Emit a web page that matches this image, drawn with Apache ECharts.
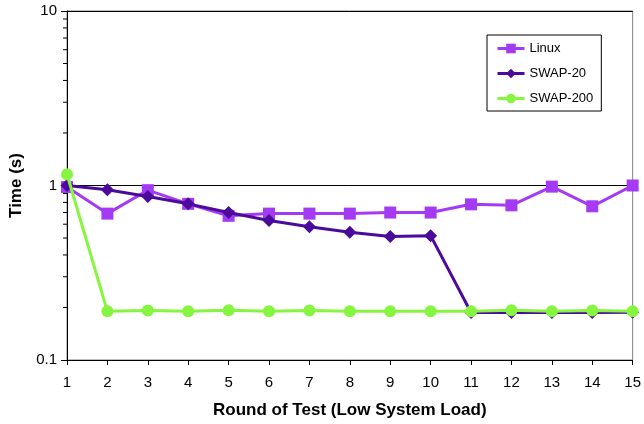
<!DOCTYPE html>
<html>
<head>
<meta charset="utf-8">
<script src="https://cdn.jsdelivr.net/npm/echarts@6/dist/echarts.min.js"></script>
<style>
html,body{margin:0;padding:0;background:#fff;}
#chart{width:644px;height:424px;}
</style>
</head>
<body>
<div id="chart"></div>
<script>
const rounds = ['1','2','3','4','5','6','7','8','9','10','11','12','13','14','15'];
const linux   = [0.98, 0.69, 0.94, 0.785, 0.67, 0.69, 0.69, 0.69, 0.70, 0.70, 0.78, 0.77, 0.985, 0.76, 1.0];
const swap20  = [1.0, 0.945, 0.865, 0.785, 0.70, 0.63, 0.58, 0.54, 0.51, 0.516, 0.187, 0.187, 0.187, 0.187, 0.188];
const swap200 = [1.16, 0.19, 0.192, 0.19, 0.193, 0.19, 0.192, 0.19, 0.19, 0.19, 0.19, 0.193, 0.19, 0.192, 0.19];
const minorTickValues = [0.2,0.3,0.4,0.5,0.6,0.7,0.8,0.9,2,3,4,5,6,7,8,9];

const FONT = "'Liberation Sans', Arial, sans-serif";
const chart = echarts.init(document.getElementById('chart'), null, {renderer:'canvas'});

chart.setOption({
  animation: false,
  backgroundColor: '#fff',
  textStyle: {fontFamily: FONT, color: '#000'},
  grid: {left: 64, right: 9, top: 11, bottom: 63, show: true, borderColor: '#808080', borderWidth: 1, backgroundColor: 'transparent'},
  legend: {
    data: ['Linux', 'SWAP-20', 'SWAP-200'],
    orient: 'vertical',
    left: 487, top: 35,
    padding: [7, 8, 6, 9],
    itemWidth: 27, itemHeight: 12, itemGap: 12,
    borderColor: '#000', borderWidth: 1,
    backgroundColor: '#fff',
    lineStyle: {width: 3},
    textStyle: {fontFamily: FONT, fontSize: 13, color: '#000', lineHeight: 12}
  },
  xAxis: {
    type: 'category', data: rounds, boundaryGap: false,
    axisLine: {lineStyle: {color: '#000', width: 1}},
    axisTick: {show: true, length: 5, inside: false, lineStyle: {color: '#000'}},
    axisLabel: {fontFamily: FONT, fontSize: 15, color: '#000', margin: 15},
    splitLine: {show: false},
    name: 'Round of Test (Low System Load)',
    nameLocation: 'middle', nameGap: 42,
    nameTextStyle: {fontFamily: FONT, fontSize: 17, fontWeight: 'bold', color: '#000'}
  },
  yAxis: {
    type: 'log', logBase: 10, min: 0.1, max: 10,
    axisLine: {show: true, lineStyle: {color: '#000', width: 1}},
    axisTick: {show: true, length: 6, inside: false, lineStyle: {color: '#000'}},
    axisLabel: {fontFamily: FONT, fontSize: 15, color: '#000', margin: 10,
      formatter: function(v){ return v >= 1 ? String(Math.round(v)) : String(Math.round(v*10)/10); }},
    splitLine: {show: true, lineStyle: {color: '#000', width: 1}},
    name: 'Time (s)', nameLocation: 'middle', nameGap: 42, nameRotate: 90,
    nameTextStyle: {fontFamily: FONT, fontSize: 17, fontWeight: 'bold', color: '#000'}
  },
  series: [
    {
      name: 'Linux', type: 'line', data: linux,
      symbol: 'rect', symbolSize: 12,
      lineStyle: {color: '#A43AF4', width: 3},
      itemStyle: {color: '#A43AF4'},
      z: 3
    },
    {
      name: 'SWAP-20', type: 'line', data: swap20,
      symbol: 'diamond', symbolSize: 13,
      lineStyle: {color: '#4B0A9B', width: 3},
      itemStyle: {color: '#4B0A9B'},
      z: 4
    },
    {
      name: 'SWAP-200', type: 'line', data: swap200,
      symbol: 'circle', symbolSize: 12,
      lineStyle: {color: '#86F53F', width: 3},
      itemStyle: {color: '#86F53F'},
      z: 5
    },
    {
      name: 'minorTicks', type: 'custom', silent: true, clip: false,
      data: minorTickValues.map(function(v){ return [0, v]; }),
      renderItem: function(params, api){
        const p = api.coord([0, api.value(1)]);
        return {type: 'line', shape: {x1: p[0]-4, y1: p[1], x2: p[0], y2: p[1]},
                style: {stroke: '#000', lineWidth: 1}};
      },
      z: 1
    }
  ]
});
</script>
</body>
</html>
